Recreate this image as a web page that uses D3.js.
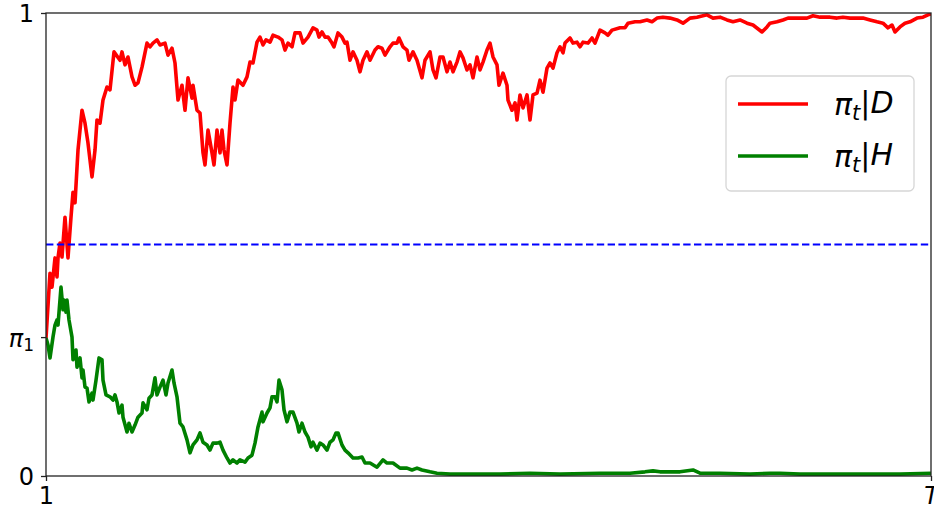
<!DOCTYPE html>
<html>
<head>
<meta charset="utf-8">
<script src="https://cdn.jsdelivr.net/npm/d3@7"></script>
<style>
  body { margin: 0; background: #fff; }
  svg { display: block; font-family: "DejaVu Sans", sans-serif; }
</style>
</head>
<body>
<svg width="934" height="511"></svg>
<script>
// horizon length (x axis runs from 1 to T)
var T = 886;
var pi1 = 0.30;        // prior, shown as the pi_1 tick
var threshold = 0.50;  // dashed blue line

// pi_t | D  : [t, value]
var seriesD = [
    [1, 0.298], [5, 0.438], [7, 0.408], [10, 0.471], [12, 0.430], [13, 0.471], [15, 0.503], [17, 0.473],
    [20, 0.559], [23, 0.471], [26, 0.559], [28, 0.613], [30, 0.590], [33, 0.704], [37, 0.790], [40, 0.762],
    [43, 0.719], [47, 0.646], [50, 0.704], [52, 0.769], [55, 0.762], [58, 0.812], [62, 0.840], [65, 0.834],
    [69, 0.916], [75, 0.898], [77, 0.916], [80, 0.888], [83, 0.905], [87, 0.862], [90, 0.844], [93, 0.849],
    [97, 0.883], [102, 0.935], [105, 0.927], [108, 0.935], [112, 0.942], [115, 0.931], [120, 0.935], [123, 0.909],
    [127, 0.924], [130, 0.892], [133, 0.812], [137, 0.844], [140, 0.790], [143, 0.860], [147, 0.816], [148, 0.844],
    [152, 0.790], [155, 0.784], [158, 0.698], [160, 0.672], [163, 0.747], [167, 0.698], [169, 0.672], [172, 0.747],
    [175, 0.698], [177, 0.747], [179, 0.704], [182, 0.672], [185, 0.762], [188, 0.840], [190, 0.812], [193, 0.855],
    [198, 0.844], [202, 0.862], [205, 0.894], [208, 0.892], [212, 0.937], [215, 0.948], [218, 0.931], [221, 0.942],
    [225, 0.937], [228, 0.952], [233, 0.948], [237, 0.942], [240, 0.920], [243, 0.935], [247, 0.927], [250, 0.957],
    [255, 0.957], [258, 0.935], [263, 0.948], [268, 0.968], [272, 0.963], [274, 0.948], [277, 0.959], [280, 0.948],
    [283, 0.948], [287, 0.935], [289, 0.927], [293, 0.957], [297, 0.948], [300, 0.935], [302, 0.937], [305, 0.898],
    [308, 0.916], [312, 0.898], [315, 0.873], [318, 0.898], [322, 0.916], [325, 0.898], [330, 0.920], [333, 0.927],
    [337, 0.924], [340, 0.909], [345, 0.927], [348, 0.935], [352, 0.935], [354, 0.946], [358, 0.927], [362, 0.920],
    [364, 0.898], [368, 0.916], [372, 0.898], [377, 0.860], [380, 0.898], [385, 0.916], [388, 0.877], [391, 0.860],
    [395, 0.905], [398, 0.905], [402, 0.873], [405, 0.894], [408, 0.873], [412, 0.894], [415, 0.916], [418, 0.903],
    [422, 0.877], [425, 0.888], [428, 0.860], [432, 0.905], [435, 0.877], [438, 0.894], [442, 0.920], [445, 0.935],
    [448, 0.905], [452, 0.888], [454, 0.844], [458, 0.870], [462, 0.844], [463, 0.812], [467, 0.790], [470, 0.806],
    [472, 0.769], [475, 0.823], [478, 0.795], [482, 0.823], [485, 0.769], [488, 0.823], [492, 0.827], [495, 0.855],
    [498, 0.829], [502, 0.881], [505, 0.892], [508, 0.881], [512, 0.914], [515, 0.927], [518, 0.914], [520, 0.935],
    [525, 0.946], [528, 0.935], [532, 0.937], [535, 0.927], [538, 0.937], [543, 0.935], [547, 0.946], [550, 0.935],
    [555, 0.963], [560, 0.957], [563, 0.952], [567, 0.963], [575, 0.968], [580, 0.968], [583, 0.978], [590, 0.981],
    [595, 0.981], [602, 0.985], [607, 0.981], [612, 0.989], [618, 0.991], [625, 0.989], [632, 0.985], [638, 0.978],
    [645, 0.989], [652, 0.991], [662, 0.996], [668, 0.989], [675, 0.991], [682, 0.985], [688, 0.981], [695, 0.985],
    [702, 0.978], [708, 0.974], [717, 0.959], [722, 0.970], [725, 0.978], [732, 0.981], [738, 0.985], [743, 0.989],
    [752, 0.989], [762, 0.989], [768, 0.994], [775, 0.991], [785, 0.991], [792, 0.989], [798, 0.991], [805, 0.989],
    [812, 0.989], [818, 0.989], [825, 0.985], [832, 0.981], [838, 0.978], [843, 0.968], [847, 0.974], [850, 0.959],
    [855, 0.970], [860, 0.978], [865, 0.981], [872, 0.989], [878, 0.991], [883, 0.996], [886, 0.998]
];

// pi_t | H  : [t, value]
var seriesH = [
    [1, 0.298], [3, 0.283], [5, 0.255], [8, 0.300], [10, 0.326], [12, 0.337], [13, 0.326], [16, 0.408],
    [18, 0.359], [19, 0.380], [21, 0.354], [22, 0.380], [24, 0.337], [27, 0.300], [28, 0.251], [31, 0.272],
    [32, 0.235], [35, 0.255], [37, 0.212], [38, 0.229], [40, 0.192], [42, 0.190], [44, 0.160], [47, 0.179],
    [48, 0.164], [51, 0.207], [54, 0.255], [57, 0.251], [58, 0.207], [61, 0.175], [65, 0.171], [68, 0.164],
    [70, 0.175], [72, 0.160], [74, 0.136], [77, 0.153], [78, 0.127], [82, 0.095], [84, 0.114], [87, 0.095],
    [90, 0.110], [93, 0.127], [97, 0.136], [98, 0.158], [102, 0.143], [104, 0.168], [107, 0.175], [110, 0.212],
    [112, 0.175], [115, 0.192], [118, 0.207], [121, 0.175], [123, 0.201], [127, 0.229], [129, 0.201], [132, 0.171],
    [135, 0.114], [138, 0.106], [142, 0.078], [145, 0.050], [148, 0.067], [152, 0.078], [155, 0.093], [158, 0.073],
    [162, 0.067], [165, 0.056], [168, 0.071], [172, 0.071], [175, 0.073], [178, 0.056], [182, 0.039], [185, 0.028],
    [188, 0.035], [192, 0.028], [195, 0.035], [200, 0.030], [203, 0.039], [207, 0.045], [210, 0.071], [213, 0.106],
    [217, 0.138], [218, 0.117], [222, 0.136], [225, 0.147], [227, 0.171], [230, 0.171], [232, 0.160], [234, 0.207],
    [237, 0.186], [239, 0.143], [242, 0.117], [245, 0.138], [248, 0.138], [252, 0.114], [254, 0.095], [257, 0.114],
    [260, 0.095], [263, 0.084], [266, 0.063], [268, 0.073], [272, 0.056], [275, 0.071], [278, 0.067], [282, 0.056],
    [285, 0.073], [288, 0.078], [291, 0.093], [293, 0.093], [297, 0.067], [300, 0.056], [303, 0.050], [308, 0.039],
    [313, 0.039], [317, 0.041], [320, 0.028], [325, 0.028], [332, 0.019], [338, 0.035], [342, 0.028], [348, 0.028],
    [355, 0.017], [362, 0.017], [367, 0.013], [372, 0.017], [377, 0.013], [385, 0.009], [392, 0.006], [405, 0.004],
    [425, 0.004], [455, 0.004], [485, 0.006], [515, 0.004], [555, 0.006], [585, 0.006], [600, 0.009], [608, 0.011],
    [615, 0.009], [625, 0.009], [635, 0.009], [648, 0.013], [655, 0.006], [675, 0.006], [705, 0.004], [725, 0.006],
    [735, 0.006], [755, 0.004], [785, 0.004], [815, 0.004], [855, 0.004], [886, 0.006]
];

var svg = d3.select("svg"),
    margin = {top: 13, right: 3, bottom: 35, left: 46},
    width = +svg.attr("width") - margin.left - margin.right,
    height = +svg.attr("height") - margin.top - margin.bottom;

var x = d3.scaleLinear().domain([1, T]).range([0, width]);
var y = d3.scaleLinear().domain([0, 1]).range([height, 0]);

var g = svg.append("g")
    .attr("transform", "translate(" + margin.left + "," + margin.top + ")");

svg.append("defs").append("clipPath").attr("id", "plot-clip")
    .append("rect")
    .attr("width", width)
    .attr("height", height);

var line = d3.line()
    .x(function(d) { return x(d[0]); })
    .y(function(d) { return y(d[1]); });

var plot = g.append("g").attr("clip-path", "url(#plot-clip)");

plot.append("path")
    .datum(seriesD)
    .attr("fill", "none")
    .attr("stroke", "#ff0000")
    .attr("stroke-width", 3.6)
    .attr("stroke-linejoin", "round")
    .attr("d", line);

plot.append("path")
    .datum(seriesH)
    .attr("fill", "none")
    .attr("stroke", "#008000")
    .attr("stroke-width", 3.6)
    .attr("stroke-linejoin", "round")
    .attr("d", line);

plot.append("line")
    .attr("x1", 0)
    .attr("x2", width)
    .attr("y1", y(threshold))
    .attr("y2", y(threshold))
    .attr("stroke", "#0000ff")
    .attr("stroke-width", 2.2)
    .style("stroke-dasharray", "7.4, 3.4");

// frame
g.append("rect")
    .attr("width", width)
    .attr("height", height)
    .attr("fill", "none")
    .attr("stroke", "#222")
    .attr("stroke-width", 1.3);

// y axis: 0, pi_1, 1
var yAxis = g.append("g")
    .call(d3.axisLeft(y).tickValues([0, pi1, 1]).tickSize(5).tickPadding(7).tickFormat(""));
yAxis.select(".domain").remove();
yAxis.selectAll(".tick line").attr("stroke", "#222").attr("stroke-width", 1.3);

yAxis.selectAll(".tick text")
    .attr("fill", "#000")
    .style("font-size", "24px")
    .style("font-family", "DejaVu Sans")
    .each(function(d) {
        var t = d3.select(this);
        if (d === pi1) {
            t.attr("dy", "0.4em");
            t.append("tspan").style("font-style", "italic").text("π");
            t.append("tspan").attr("dy", "0.25em").style("font-size", "17px").text("1");
        } else {
            t.attr("dy", "0.36em").text(d);
        }
    });

// x axis: 1, T
var xAxis = g.append("g")
    .attr("transform", "translate(0," + height + ")")
    .call(d3.axisBottom(x).tickValues([1, T]).tickSize(5).tickPadding(6)
        .tickFormat(function(d) { return d === T ? "T" : d; }));
xAxis.select(".domain").remove();
xAxis.selectAll(".tick line").attr("stroke", "#222").attr("stroke-width", 1.3);
xAxis.selectAll(".tick text")
    .attr("fill", "#000")
    .style("font-size", "24px")
    .style("font-family", "DejaVu Sans")
    .style("font-style", function(d) { return d === T ? "italic" : "normal"; });

// legend
var legendItems = [
    {sub: "t", cond: "D", color: "#ff0000"},
    {sub: "t", cond: "H", color: "#008000"}
];

var legend = svg.append("g").attr("transform", "translate(726,76)");

legend.append("rect")
    .attr("width", 188)
    .attr("height", 115)
    .attr("rx", 5)
    .attr("fill", "#fff")
    .attr("fill-opacity", 0.8)
    .attr("stroke", "#d6d6d6")
    .attr("stroke-width", 1.3);

var item = legend.selectAll(".item")
    .data(legendItems)
    .enter().append("g")
    .attr("class", "item")
    .attr("transform", function(d, i) { return "translate(0," + (28 + i * 52) + ")"; });

item.append("line")
    .attr("x1", 12)
    .attr("x2", 82)
    .attr("stroke", function(d) { return d.color; })
    .attr("stroke-width", 3.6);

var label = item.append("text")
    .attr("x", 108)
    .attr("dy", "0.36em")
    .attr("fill", "#000")
    .style("font-size", "30px")
    .style("font-family", "DejaVu Sans");

label.append("tspan").style("font-style", "italic").text("π");
label.append("tspan").attr("dy", "0.25em").style("font-size", "21px").style("font-style", "italic")
    .text(function(d) { return d.sub; });
label.append("tspan").attr("dy", "-0.25em").style("font-size", "30px").text("|");
label.append("tspan").style("font-style", "italic").text(function(d) { return d.cond; });
</script>
</body>
</html>
